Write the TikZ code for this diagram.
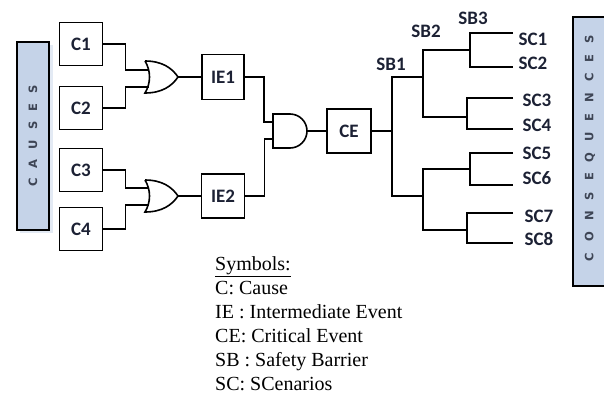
\documentclass[tikz,border=0pt]{standalone}
\usepackage{fontspec}
\setmainfont{Liberation Serif}
\newfontfamily\labelfont{Carlito}
\newfontfamily\barfont{DejaVu Sans}
\usetikzlibrary{positioning,calc}

\definecolor{barblue}{HTML}{C5D3E8}
\definecolor{barshadow}{HTML}{E3EAF4}
\definecolor{bartext}{HTML}{3E4555}
\definecolor{labelnavy}{HTML}{1C2134}

\tikzset{
    wire/.style={line width=1.6pt, line join=miter},
    eventbox/.style={draw, line width=1.6pt, inner sep=0pt, minimum width=43pt, minimum height=43pt,
        font=\labelfont\bfseries\fontsize{19}{20}\selectfont, text=labelnavy},
    branchlabel/.style={inner sep=0pt, font=\labelfont\bfseries\fontsize{19}{20}\selectfont, text=labelnavy},
    sidebar/.style={draw, line width=1.6pt, fill=barblue},
    bartitle/.style={rotate=90, inner sep=0pt, font=\barfont\bfseries\fontsize{11.5}{12}\selectfont, text=bartext},
    orgate/.pic={\draw[wire] (-33,-16) .. controls (-16,-16) and (-6,-9) .. (0,0)
        .. controls (-6,9) and (-16,16) .. (-33,16) .. controls (-27,6) and (-27,-6) .. (-33,-16);},
}

\begin{document}
\begin{tikzpicture}[x=1pt, y=-1pt]
    \useasboundingbox (0,0) rectangle (604,394);

    % side bars
    \fill[barshadow] (20,45) rectangle (53,233);
    \draw[sidebar] (17,42) rectangle (49,230);
    \node[bartitle] (causes) at (33,136) {C\hspace{10pt}A\hspace{10pt}U\hspace{10pt}S\hspace{10pt}E\hspace{10pt}S};
    \draw[sidebar] (573,17) rectangle (608,286);
    \node[bartitle] (conseq) at (590,148) {C\hspace{11pt}O\hspace{11pt}N\hspace{11pt}S\hspace{11pt}E\hspace{11pt}Q\hspace{11pt}U\hspace{11pt}E\hspace{11pt}N\hspace{11pt}C\hspace{11pt}E\hspace{11pt}S};

    % causes
    \node[eventbox] (c1) at (81,44) {C1};
    \node[eventbox] (c2) at (81,108) {C2};
    \node[eventbox] (c3) at (81,170) {C3};
    \node[eventbox] (c4) at (81,229) {C4};

    % gates
    \pic at (178,77) {orgate};
    \pic at (178,196) {orgate};
    \coordinate (or1a) at (149,70);
    \coordinate (or1b) at (149,87);
    \coordinate (or1out) at (178,77);
    \coordinate (or2a) at (149,188);
    \coordinate (or2b) at (149,205);
    \coordinate (or2out) at (178,196);
    \draw[wire] (273,114) -- (290,114) arc (-90:90:17) -- (273,148) -- cycle;
    \coordinate (and1a) at (273,122);
    \coordinate (and1b) at (273,139);
    \coordinate (and1out) at (307,131);

    % events
    \node[eventbox, minimum width=42pt, minimum height=45pt] (ie1) at (223,77) {IE1};
    \node[eventbox, minimum height=44pt] (ie2) at (223,196) {IE2};
    \node[eventbox, minimum width=44pt, minimum height=44pt] (ce) at (349,131) {CE};

    \draw[wire] (c1.east) -- ++(22,0) |- (or1a);
    \draw[wire] (c2.east) -- ++(22,0) |- (or1b);
    \draw[wire] (c3.east) -- ++(22,0) |- (or2a);
    \draw[wire] (c4.east) -- ++(22,0) |- (or2b);
    \draw[wire] (or1out) -- (ie1.west);
    \draw[wire] (or2out) -- (ie2.west);
    \draw[wire] (ie1.east) -- ++(19,0) |- (and1a);
    \draw[wire] (ie2.east) -- ++(19,0) |- (and1b);
    \draw[wire] (and1out) -- (ce.west);

    % safety barriers
    \coordinate (sb1) at (392,131);
    \coordinate (sb2a) at (423,77);
    \coordinate (sb2b) at (423,196);
    \draw[wire] (ce.east) -- (sb1);
    \draw[wire] (sb2a) -| (sb1) |- (sb2b);
    \coordinate (sb3a) at (470,50);
    \coordinate (sb3b) at (467,117);
    \coordinate (sb3c) at (470,169);
    \coordinate (sb3d) at (467,230);
    \draw[wire] (sb3a) -| (sb2a) |- (sb3b);
    \draw[wire] (sb3c) -| (sb2b) |- (sb3d);
    \foreach \b/\up/\dn in {a/33/67, b/98/129, c/153/185, d/213/243}
        \draw[wire] (513,\up) -| (sb3\b) |- (513,\dn);

    \node[branchlabel] (sb1lbl) at (391,64) {SB1};
    \node[branchlabel] (sb2lbl) at (426,31) {SB2};
    \node[branchlabel] (sb3lbl) at (473,18) {SB3};

    % scenarios
    \foreach \i/\x/\y in {1/533/39, 2/533/63, 3/537/100, 4/537/125, 5/537/153, 6/537/178, 7/539/216, 8/539/239}
        \node[branchlabel] (sc\i) at (\x,\y) {SC\i};

    % legend
    \node[anchor=north west, align=left, inner sep=0pt, font=\fontsize{20}{24}\selectfont] (legend) at (215,256)
        {\underline{Symbols:}\\ C: Cause\\ IE : Intermediate Event\\ CE: Critical Event\\ SB : Safety Barrier\\ SC: SCenarios};
\end{tikzpicture}
\end{document}
